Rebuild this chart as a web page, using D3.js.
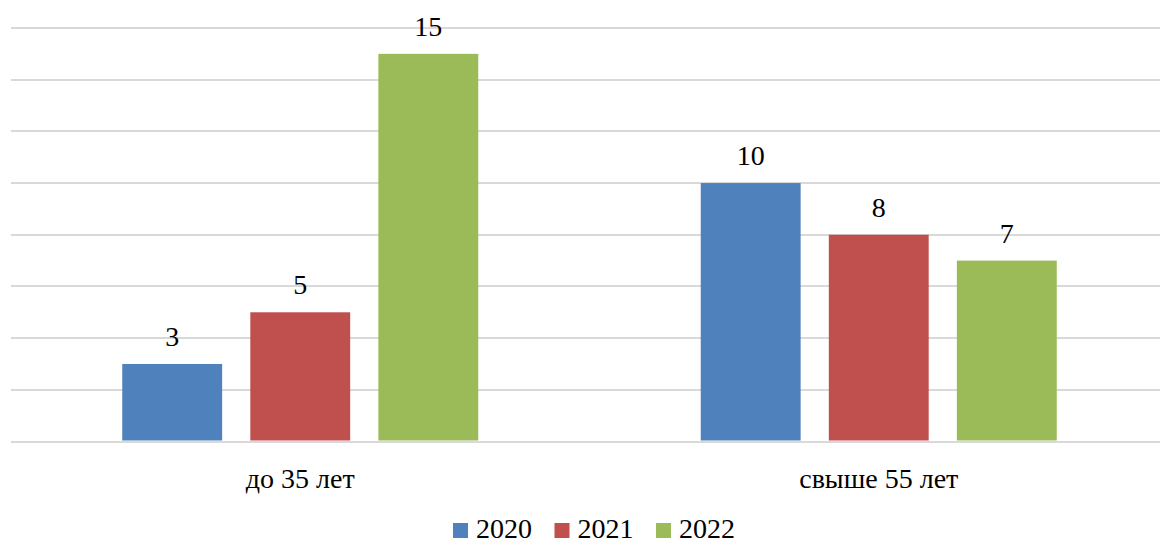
<!DOCTYPE html>
<html><head><meta charset="utf-8">
<script src="https://cdn.jsdelivr.net/npm/d3@7"></script>
<style>
html,body{margin:0;padding:0;background:#fff;overflow:hidden;}
svg text{font-family:"Liberation Serif",serif !important;}
</style>
</head><body>
<script>
const categories = ["до 35 лет", "свыше 55 лет"];
const seriesNames = ["2020", "2021", "2022"];
const values2020 = [3, 10];
const values2021 = [5, 8];
const values2022 = [15, 7];
const yTicks = [0, 2, 4, 6, 8, 10, 12, 14, 16];
const colors = ["#4f81bd", "#c0504d", "#9bbb59"];

const seriesValues = [values2020, values2021, values2022];
const W = 1160, H = 545;
const svg = d3.select("body").append("svg").attr("width", W).attr("height", H)
  .style("display", "block").style("font-family", '"Liberation Serif", serif');

const y = d3.scaleLinear().domain([0, 16]).range([441.5, 28]);
const x0 = d3.scaleBand().domain(categories).range([11, 1168]);
const x1 = d3.scaleBand().domain(seriesNames).range([0, 356]).paddingInner(0.22);

function label(sel) {
  return sel.attr("font-family", '"Liberation Serif"')
    .style("font-family", '"Liberation Serif", serif')
    .attr("font-size", 28).attr("fill", "#000");
}

// gridlines
svg.append("g").selectAll("line").data(yTicks).join("line")
  .attr("x1", 11).attr("x2", 1160)
  .attr("y1", d => Math.round(y(d))).attr("y2", d => Math.round(y(d)))
  .attr("stroke", "#d9d9d9").attr("stroke-width", 2);

const groups = svg.append("g").selectAll("g").data(categories).join("g")
  .attr("transform", c => `translate(${x0(c) + x0.bandwidth() / 2 - 178},0)`);

groups.each(function (c, ci) {
  const g = d3.select(this);
  seriesNames.forEach((s, si) => {
    const v = seriesValues[si][ci];
    g.append("rect")
      .attr("x", x1(s)).attr("width", x1.bandwidth())
      .attr("y", y(v)).attr("height", y(0) - y(v) - 1)
      .attr("fill", colors[si]);
    label(g.append("text")
      .attr("x", x1(s) + x1.bandwidth() / 2).attr("y", y(v) - 18)
      .attr("text-anchor", "middle")).text(v);
  });
});

// category labels
label(svg.append("g").selectAll("text").data(categories).join("text")
  .attr("x", c => x0(c) + x0.bandwidth() / 2).attr("y", 488)
  .attr("text-anchor", "middle")).text(c => c);

// legend
const leg = svg.append("g").attr("transform", "translate(453,0)");
seriesNames.forEach((s, i) => {
  const gx = i * 101.5;
  leg.append("rect").attr("x", gx).attr("y", 523).attr("width", 15).attr("height", 15).attr("fill", colors[i]);
  label(leg.append("text").attr("x", gx + 23).attr("y", 538)).text(s);
});
</script>
</body></html>
